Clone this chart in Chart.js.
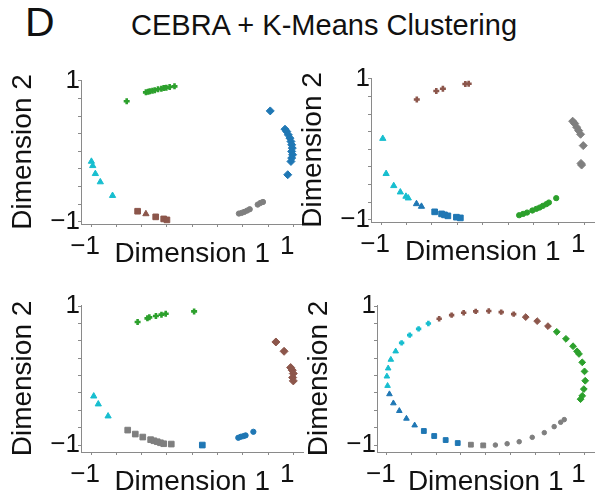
<!DOCTYPE html>
<html>
<head>
<meta charset="utf-8">
<title>CEBRA + K-Means Clustering</title>
<script src="https://cdn.jsdelivr.net/npm/chart.js@4/dist/chart.umd.min.js"></script>
<style>
  html, body { margin: 0; padding: 0; background: #fff; overflow: hidden; }
  #fig { position: relative; width: 601px; height: 495px; font-family: "Liberation Sans", Arial, sans-serif; color: #111; }
  .panel { position: absolute; }
  #letter { position: absolute; left: 25px; top: 2px; font-size: 41px; line-height: 1; }
  #title { position: absolute; left: 131px; top: 11px; font-size: 29px; line-height: 1; white-space: nowrap; }
</style>
</head>
<body>
<div id="fig">
  <div id="letter">D</div>
  <div id="title">CEBRA + K-Means Clustering</div>
  <canvas id="p1" class="panel" width="310" height="230" style="left:0px;top:50px"></canvas>
  <canvas id="p2" class="panel" width="311" height="230" style="left:290px;top:48px"></canvas>
  <canvas id="p3" class="panel" width="310" height="230" style="left:0px;top:278px"></canvas>
  <canvas id="p4" class="panel" width="305" height="230" style="left:296px;top:278px"></canvas>
</div>
<script>
// axis ticks, labels only at the ends
const tickValues = [-1, -0.75, -0.5, -0.25, 0, 0.25, 0.5, 0.75, 1];
const tickLabels = { "-1": "\u22121", "1": "1" };
const xTitle = "Dimension 1";
const yTitle = "Dimension 2";

// cluster colours
const blue = "#1f77b4", green = "#2ca02c", brown = "#8c564b", gray = "#7f7f7f", cyan = "#17becf";
const axisGray = "#8a8a8a";
const textColor = "#111";

// panel 1 (top left)
const p1GreenCrossX = [-0.648, -0.458, -0.436, -0.419, -0.393, -0.370, -0.338, -0.305, -0.282, -0.256, -0.223, -0.175];
const p1GreenCrossY = [0.708, 0.835, 0.845, 0.849, 0.859, 0.864, 0.878, 0.887, 0.896, 0.901, 0.911, 0.920];
const p1BlueDiamondX = [0.772, 0.918, 0.935, 0.951, 0.967, 0.977, 0.984, 0.990, 0.984, 0.993, 0.984, 0.977, 0.945];
const p1BlueDiamondY = [0.572, 0.313, 0.280, 0.233, 0.186, 0.139, 0.092, 0.045, -0.002, -0.049, -0.096, -0.144, -0.332];
const p1CyanTriangleX = [-0.997, -0.984, -0.958, -0.909, -0.788];
const p1CyanTriangleY = [-0.144, -0.205, -0.318, -0.435, -0.628];
const p1BrownSquareX = [-0.540, -0.361, -0.282, -0.250];
const p1BrownSquareY = [-0.849, -0.929, -0.958, -0.972];
const p1BrownTriangleX = [-0.458];
const p1BrownTriangleY = [-0.887];
const p1GrayCircleX = [0.462, 0.488, 0.514, 0.543, 0.569, 0.648, 0.674, 0.700];
const p1GrayCircleY = [-0.882, -0.873, -0.859, -0.840, -0.821, -0.755, -0.732, -0.718];

// panel 2 (top right)
const p2BrownCrossX = [-0.649, -0.457, -0.392, -0.171, -0.138];
const p2BrownCrossY = [0.706, 0.825, 0.858, 0.924, 0.929];
const p2GrayDiamondX = [0.886, 0.906, 0.925, 0.945, 0.964, 0.990, 0.968, 0.974];
const p2GrayDiamondY = [0.398, 0.365, 0.313, 0.265, 0.213, 0.052, -0.200, -0.223];
const p2CyanTriangleX = [-0.984, -0.951, -0.876, -0.811, -0.756, -0.733];
const p2CyanTriangleY = [0.152, -0.346, -0.517, -0.607, -0.668, -0.692];
const p2BlueTriangleX = [-0.652, -0.603];
const p2BlueTriangleY = [-0.773, -0.810];
const p2BlueSquareX = [-0.473, -0.405, -0.376, -0.343, -0.259, -0.220];
const p2BlueSquareY = [-0.886, -0.915, -0.929, -0.943, -0.962, -0.972];
const p2GreenCircleX = [0.359, 0.398, 0.437, 0.489, 0.528, 0.561, 0.593, 0.626, 0.652, 0.724];
const p2GreenCircleY = [-0.934, -0.915, -0.896, -0.867, -0.844, -0.825, -0.801, -0.777, -0.754, -0.692];

// panel 3 (bottom left)
const p3GreenCrossX = [-0.540, -0.443, -0.424, -0.359, -0.304, -0.262, 0.019];
const p3GreenCrossY = [0.770, 0.823, 0.837, 0.856, 0.876, 0.890, 0.923];
const p3BrownDiamondX = [0.828, 0.909, 0.974, 0.990, 1.000, 0.994, 1.000];
const p3BrownDiamondY = [0.483, 0.349, 0.115, 0.077, 0.029, -0.029, -0.077];
const p3CyanTriangleX = [-0.974, -0.929, -0.832];
const p3CyanTriangleY = [-0.297, -0.411, -0.584];
const p3GraySquareX = [-0.638, -0.563, -0.489, -0.411, -0.379, -0.346, -0.314, -0.282, -0.207];
const p3GraySquareY = [-0.785, -0.842, -0.885, -0.923, -0.938, -0.952, -0.967, -0.981, -0.986];
const p3BlueSquareX = [0.100];
const p3BlueSquareY = [-1.000];
const p3BlueCircleX = [0.456, 0.482, 0.508, 0.528, 0.605];
const p3BlueCircleY = [-0.895, -0.880, -0.871, -0.861, -0.809];

// panel 4 (bottom right)
const p4CyanCrossX = [-0.851, -0.769, -0.679, -0.580];
const p4CyanCrossY = [0.470, 0.581, 0.672, 0.749];
const p4CyanTriangleX = [-0.911, -0.960, -0.987, -1.000, -0.993];
const p4CyanTriangleY = [0.349, 0.229, 0.104, -0.012, -0.147];
const p4BlueTriangleX = [-0.974, -0.934, -0.874, -0.802, -0.719];
const p4BlueTriangleY = [-0.267, -0.398, -0.508, -0.619, -0.716];
const p4BlueSquareX = [-0.626, -0.521, -0.405, -0.283];
const p4BlueSquareY = [-0.798, -0.870, -0.928, -0.971];
const p4GraySquareX = [-0.150, -0.025];
const p4GraySquareY = [-0.995, -1.005];
const p4GrayCircleX = [0.098, 0.217, 0.339, 0.471, 0.593, 0.693, 0.759, 0.795];
const p4GrayCircleY = [-1.000, -0.981, -0.952, -0.889, -0.822, -0.735, -0.672, -0.634];
const p4BrownCrossX = [-0.471, -0.345, -0.223, -0.101, 0.031, 0.157, 0.283];
const p4BrownCrossY = [0.817, 0.870, 0.904, 0.923, 0.928, 0.913, 0.884];
const p4BrownDiamondX = [0.405, 0.521, 0.630];
const p4BrownDiamondY = [0.841, 0.783, 0.711];
const p4GreenDiamondX = [0.719, 0.812, 0.884, 0.924, 0.944, 0.977, 1.000, 1.007, 0.993, 0.977, 0.960];
const p4GreenDiamondY = [0.629, 0.528, 0.422, 0.349, 0.311, 0.190, 0.060, -0.075, -0.195, -0.292, -0.340];

Chart.defaults.font.family = '"Liberation Sans", Arial, sans-serif';

const markerRadius = { cross: 3, rectRot: 4, rect: 4, triangle: 3.6, circle: 2.4 };
const markerBorder = { cross: 2.6, rectRot: 1, rect: 1, triangle: 1, circle: 1 };

function makeSet(xs, ys, color, style, scale) {
  const k = scale || 1;
  return {
    data: xs.map((x, i) => ({ x: x, y: ys[i] })),
    pointStyle: style,
    pointRadius: markerRadius[style] * k,
    backgroundColor: color,
    borderColor: color,
    pointBorderWidth: markerBorder[style],
    showLine: false
  };
}

function makeAxis(pos, min, max, titleText) {
  const isX = pos === "bottom";
  return {
    type: "linear",
    position: pos,
    min: min,
    max: max,
    afterBuildTicks: (s) => { s.ticks = tickValues.map((v) => ({ value: v })); },
    afterFit: (s) => { if (isX) s.height = 56; else s.width = 81; },
    grid: { display: true, drawOnChartArea: false, drawTicks: true, tickLength: 3, color: axisGray, lineWidth: 1 },
    border: { display: true, color: axisGray, width: 1 },
    ticks: {
      autoSkip: false,
      maxRotation: 0,
      padding: isX ? 4 : -2,
      labelOffset: isX ? -6 : 0,
      color: textColor,
      font: { size: 26 },
      callback: (v) => tickLabels[String(v)] || ""
    },
    title: {
      display: true,
      text: titleText,
      color: textColor,
      font: { size: 28 },
      padding: isX ? { top: 0, bottom: 9 } : { top: 6, bottom: 0 }
    }
  };
}

function makePanel(id, yMin, yMax, pad, datasets) {
  new Chart(document.getElementById(id), {
    type: "scatter",
    data: { datasets: datasets },
    options: {
      responsive: false,
      animation: false,
      events: [],
      layout: { padding: pad },
      plugins: { legend: { display: false }, tooltip: { enabled: false } },
      scales: {
        x: makeAxis("bottom", -1.1, 1.1, xTitle),
        y: makeAxis("left", yMin, yMax, yTitle)
      }
    }
  });
}

makePanel("p1", -1.03, 1.01, { top: 30, right: 5, left: 0, bottom: 0 }, [
  makeSet(p1GreenCrossX, p1GreenCrossY, green, "cross"),
  makeSet(p1BlueDiamondX, p1BlueDiamondY, blue, "rectRot"),
  makeSet(p1CyanTriangleX, p1CyanTriangleY, cyan, "triangle"),
  makeSet(p1BrownSquareX, p1BrownSquareY, brown, "rect"),
  makeSet(p1BrownTriangleX, p1BrownTriangleY, brown, "triangle"),
  makeSet(p1GrayCircleX, p1GrayCircleY, gray, "circle", 1.1)
]);

makePanel("p2", -1.03, 1.01, { top: 30, right: 6, left: 0, bottom: 0 }, [
  makeSet(p2BrownCrossX, p2BrownCrossY, brown, "cross"),
  makeSet(p2GrayDiamondX, p2GrayDiamondY, gray, "rectRot"),
  makeSet(p2CyanTriangleX, p2CyanTriangleY, cyan, "triangle"),
  makeSet(p2BlueTriangleX, p2BlueTriangleY, blue, "triangle"),
  makeSet(p2BlueSquareX, p2BlueSquareY, blue, "rect"),
  makeSet(p2GreenCircleX, p2GreenCircleY, green, "circle", 1.1)
]);

makePanel("p3", -1.1, 1.015, { top: 27, right: 4, left: 0, bottom: 0 }, [
  makeSet(p3GreenCrossX, p3GreenCrossY, green, "cross"),
  makeSet(p3BrownDiamondX, p3BrownDiamondY, brown, "rectRot"),
  makeSet(p3CyanTriangleX, p3CyanTriangleY, cyan, "triangle"),
  makeSet(p3GraySquareX, p3GraySquareY, gray, "rect"),
  makeSet(p3BlueSquareX, p3BlueSquareY, blue, "rect"),
  makeSet(p3BlueCircleX, p3BlueCircleY, blue, "circle", 1.1)
]);

makePanel("p4", -1.1, 1.015, { top: 27, right: 4, left: 0, bottom: 0 }, [
  makeSet(p4CyanCrossX, p4CyanCrossY, cyan, "cross", 0.9),
  makeSet(p4CyanTriangleX, p4CyanTriangleY, cyan, "triangle", 0.9),
  makeSet(p4BlueTriangleX, p4BlueTriangleY, blue, "triangle", 0.9),
  makeSet(p4BlueSquareX, p4BlueSquareY, blue, "rect", 0.85),
  makeSet(p4GraySquareX, p4GraySquareY, gray, "rect", 0.85),
  makeSet(p4GrayCircleX, p4GrayCircleY, gray, "circle", 0.95),
  makeSet(p4BrownCrossX, p4BrownCrossY, brown, "cross", 0.9),
  makeSet(p4BrownDiamondX, p4BrownDiamondY, brown, "rectRot", 0.85),
  makeSet(p4GreenDiamondX, p4GreenDiamondY, green, "rectRot", 0.85)
]);
</script>
</body>
</html>
